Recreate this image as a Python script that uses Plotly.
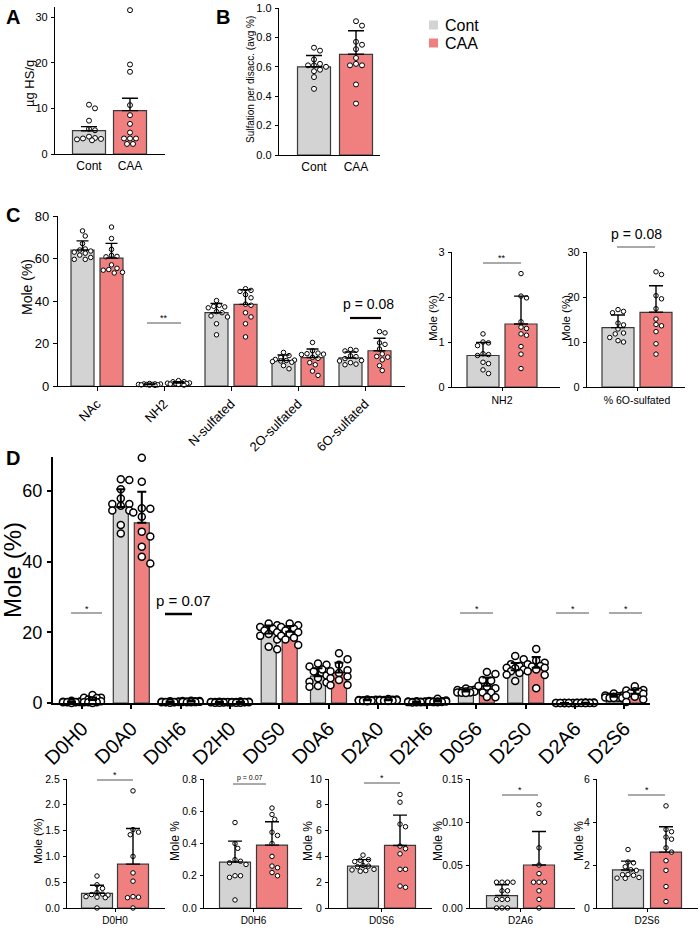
import plotly.graph_objects as go

W, H = 700, 929
FONT = "Liberation Sans, Arial, Helvetica, sans-serif"
GREY, RED, EDGE = "#d3d3d3", "#f08080", "#3a3a3a"

groups = ["Cont", "CAA"]

# ---------------- Panel A : HS content ----------------
a_cont = [10.8, 10.0, 7.3, 5.5, 5.2, 3.8, 3.5, 3.4, 3.3, 3.2, 3.0]
a_caa = [31.5, 19.6, 18.0, 10.7, 8.5, 6.6, 4.7, 3.4, 3.4, 3.4, 2.2, 2.2]
a_mean = [5.1, 9.5]
a_err = [0.9, 2.7]

# ---------------- Panel B : sulfation per disaccharide ----------------
b_cont = [0.73, 0.71, 0.65, 0.62, 0.61, 0.61, 0.60, 0.58, 0.57, 0.53, 0.45]
b_caa = [0.91, 0.88, 0.77, 0.75, 0.72, 0.66, 0.62, 0.61, 0.61, 0.48, 0.35]
b_mean = [0.60, 0.685]
b_err = [0.077, 0.16]

# ---------------- Panel C ----------------
c_cats = ["NAc", "NH2", "N-sulfated", "2O-sulfated", "6O-sulfated"]
c_nac_cont = [73.0, 70.6, 67.0, 64.5, 64.0, 63.5, 63.0, 62.5, 61.6, 60.5, 59.6, 59.6]
c_nac_caa = [74.8, 69.4, 64.3, 61.5, 61.0, 60.8, 57.0, 55.4, 54.5, 53.2, 53.5, 54.8]
c_nh2_cont = [1.18, 1.0, 0.98, 0.92, 0.74, 0.72, 0.70, 0.55, 0.52, 0.38, 0.30]
c_nh2_caa = [2.52, 2.02, 1.98, 1.45, 1.33, 1.30, 1.18, 1.15, 0.90, 0.73, 0.41]
c_ns_cont = [40.2, 38.0, 37.5, 37.2, 36.8, 35.0, 34.5, 33.0, 32.5, 29.3, 24.1]
c_ns_caa = [45.8, 45.0, 44.5, 43.0, 41.5, 38.5, 38.0, 34.5, 32.5, 29.3, 23.1]
c_2o_cont = [15.8, 14.3, 13.5, 12.5, 12.2, 12.0, 11.8, 11.5, 11.2, 9.6, 8.1]
c_2o_caa = [20.5, 16.6, 15.5, 15.2, 15.0, 14.8, 13.5, 13.0, 11.0, 10.0, 7.0, 5.0]
c_6o_cont = [17.2, 16.8, 16.5, 14.2, 13.8, 12.9, 12.0, 11.8, 11.0, 10.3, 10.0]
c_6o_caa = [25.6, 25.0, 20.3, 19.6, 17.4, 15.1, 13.9, 13.6, 12.3, 9.6, 7.3]
c_mean_cont = [64.0, 0.70, 34.5, 12.0, 13.2]
c_mean_caa = [60.2, 1.40, 38.4, 13.4, 16.6]
c_err_cont = [4.3, 0.29, 4.3, 2.6, 2.8]
c_err_caa = [6.9, 0.62, 6.9, 4.0, 5.9]

# ---------------- Panel D ----------------
d_cats = ["D0H0", "D0A0", "D0H6", "D2H0", "D0S0", "D0A6",
          "D2A0", "D2H6", "D0S6", "D2S0", "D2A6", "D2S6"]
d0h0_cont = [0.62, 0.45, 0.38, 0.30, 0.27, 0.26, 0.25, 0.22, 0.21, 0.20, 0.0]
d0h0_caa = [2.27, 1.52, 1.47, 1.42, 1.0, 0.68, 0.52, 0.22, 0.21, 0.20, 0.0]
d0a0_cont = [63.3, 63.1, 60.5, 57.9, 56.3, 56.3, 55.8, 54.5, 54.5, 50.4, 48.0]
d0a0_caa = [69.4, 62.6, 55.1, 55.0, 53.9, 52.7, 48.5, 47.1, 44.2, 41.4, 39.5]
d0h6_cont = [0.53, 0.40, 0.37, 0.30, 0.29, 0.28, 0.27, 0.20, 0.20, 0.19, 0.05]
d0h6_caa = [0.62, 0.58, 0.55, 0.47, 0.45, 0.40, 0.32, 0.26, 0.25, 0.22, 0.20]
d2h0_cont = [0.35, 0.30, 0.30, 0.25, 0.25, 0.20, 0.20, 0.20, 0.15, 0.10, 0.10]
d2h0_caa = [0.40, 0.35, 0.30, 0.30, 0.25, 0.25, 0.20, 0.20, 0.15, 0.10, 0.10]
d0s0_cont = [22.5, 22.0, 21.5, 21.0, 20.5, 20.0, 19.5, 19.0, 18.0, 15.9, 15.2]
d0s0_caa = [22.5, 22.0, 21.5, 21.0, 20.5, 20.0, 19.5, 19.0, 18.5, 18.0, 16.4]
d0a6_cont = [11.2, 10.8, 10.3, 9.5, 8.9, 7.8, 7.0, 6.0, 5.8, 4.8, 4.6]
d0a6_caa = [14.1, 12.4, 10.8, 9.3, 9.0, 8.5, 7.5, 7.0, 6.5, 5.1, 5.0]
d2a0_cont = [1.0, 0.9, 0.85, 0.8, 0.8, 0.75, 0.7, 0.7, 0.65, 0.6, 0.5]
d2a0_caa = [1.1, 1.0, 0.95, 0.9, 0.85, 0.8, 0.75, 0.7, 0.7, 0.65, 0.55]
d2h6_cont = [0.5, 0.45, 0.4, 0.35, 0.3, 0.3, 0.25, 0.25, 0.2, 0.2, 0.15]
d2h6_caa = [1.2, 0.7, 0.6, 0.5, 0.45, 0.4, 0.4, 0.35, 0.3, 0.25, 0.2]
d0s6_cont = [4.1, 3.75, 3.7, 3.6, 3.3, 3.25, 3.2, 3.0, 2.95, 2.9, 2.85]
d0s6_caa = [8.8, 8.2, 6.5, 6.3, 4.8, 4.6, 4.2, 3.0, 3.0, 1.7, 1.6]
d2s0_cont = [13.3, 12.4, 11.0, 10.5, 10.0, 9.8, 9.5, 9.0, 8.5, 8.0, 6.2]
d2s0_caa = [15.3, 12.0, 11.4, 11.0, 10.5, 10.3, 10.0, 9.5, 9.0, 7.9, 4.2]
d2a6_cont = [0.03, 0.03, 0.03, 0.03, 0.02, 0.02, 0.01, 0.01, 0.01, 0.0, 0.0, 0.0]
d2a6_caa = [0.12, 0.11, 0.07, 0.05, 0.04, 0.03, 0.03, 0.03, 0.02, 0.01, 0.0]
d2s6_cont = [2.72, 2.14, 2.1, 1.92, 1.78, 1.75, 1.56, 1.55, 1.52, 1.42, 1.39, 1.38]
d2s6_caa = [4.75, 3.65, 3.55, 3.3, 3.2, 2.8, 2.6, 2.2, 1.75, 1.0, 0.3]
d_mean_cont = [0.285, 55.5, 0.285, 0.25, 19.7, 7.6, 0.75, 0.3, 3.25, 9.3, 0.0145, 1.77]
d_mean_caa = [0.85, 51.0, 0.39, 0.25, 20.2, 8.6, 0.8, 0.45, 4.85, 10.0, 0.05, 2.6]
d_err_cont = [0.155, 5.0, 0.13, 0.08, 2.2, 2.2, 0.15, 0.1, 0.5, 2.0, 0.0125, 0.41]
d_err_caa = [0.69, 8.8, 0.145, 0.1, 1.6, 2.8, 0.17, 0.3, 2.35, 3.0, 0.039, 1.18]
d_inset_names = ["D0H0", "D0H6", "D0S6", "D2A6", "D2S6"]

c_dots_cont = [c_nac_cont, c_nh2_cont, c_ns_cont, c_2o_cont, c_6o_cont]
c_dots_caa = [c_nac_caa, c_nh2_caa, c_ns_caa, c_2o_caa, c_6o_caa]
d_dots_cont = [d0h0_cont, d0a0_cont, d0h6_cont, d2h0_cont, d0s0_cont, d0a6_cont,
               d2a0_cont, d2h6_cont, d0s6_cont, d2s0_cont, d2a6_cont, d2s6_cont]
d_dots_caa = [d0h0_caa, d0a0_caa, d0h6_caa, d2h0_caa, d0s0_caa, d0a6_caa,
              d2a0_caa, d2h6_caa, d0s6_caa, d2s0_caa, d2a6_caa, d2s6_caa]

# ---------------- helpers ----------------
fig = go.Figure()
layout = {}


def fx(px):
    return px / W


def fy(py):
    return 1 - py / H


def swarm(vals, ppu, d, maxw):
    """deterministic beeswarm offsets in px"""
    ys = [v * ppu for v in vals]
    order = sorted(range(len(vals)), key=lambda i: -vals[i])
    step = d * 0.5
    cands = [0.0]
    k = 1
    while k * step <= maxw + 1e-9:
        cands += [k * step, -k * step]
        k += 1
    placed = []
    offs = [0.0] * len(vals)
    for i in order:
        best, bestd = 0.0, -1
        for c in cands:
            md = min([((c - px) ** 2 + (ys[i] - py) ** 2) ** 0.5 for px, py in placed] or [1e9])
            if md >= 0.97 * d:
                best = c
                bestd = 1e9
                break
            if md > bestd:
                best, bestd = c, md
        offs[i] = best
        placed.append((best, ys[i]))
    return offs


def axes(n, ax0, ax1, xr, ybot, ytop, yr, yticks, ytext, xtv, xtt, xticks, fy_size, fx_size,
         xangle=0, lw=1.3, ticklen=4, ystand=1, xstand=None):
    xs = "" if n == 1 else str(n)
    xa = dict(
        domain=[fx(ax0), fx(ax1)], range=xr, anchor="y" + xs, showline=True,
        linecolor="black", linewidth=lw, showgrid=False, zeroline=False, automargin=False,
        ticks="outside" if xticks else "", ticklen=ticklen, tickwidth=lw, tickcolor="black",
        tickmode="array", tickvals=xtv, ticktext=xtt, tickangle=xangle,
        tickfont=dict(family=FONT, size=fx_size, color="black"), fixedrange=True)
    if xstand is not None:
        xa["ticklabelstandoff"] = xstand
    layout["xaxis" + xs] = xa
    layout["yaxis" + xs] = dict(
        domain=[fy(ybot), fy(ytop)], range=yr, anchor="x" + xs, showline=True,
        linecolor="black", linewidth=lw, showgrid=False, zeroline=False, automargin=False,
        ticks="outside", ticklen=ticklen, tickwidth=lw, tickcolor="black",
        tickmode="array", tickvals=yticks, ticktext=ytext, ticklabelstandoff=ystand,
        tickfont=dict(family=FONT, size=fy_size, color="black"), fixedrange=True)
    return "x" + xs, "y" + xs


def draw_group(xr_, yr_, centers, means, errs, dots, colors, bw, sp, ppu, dsize, dlw, cap,
               ethick=1.4, maxw=None):
    fig.add_trace(go.Bar(x=centers, y=means, width=bw, xaxis=xr_, yaxis=yr_,
                         marker=dict(color=colors, line=dict(color=EDGE, width=1.2)),
                         showlegend=False, hoverinfo="skip"))
    for c, vals in zip(centers, dots):
        mw = maxw if maxw is not None else bw * sp * 0.5
        offs = swarm(vals, ppu, dsize + dlw, mw)
        fig.add_trace(go.Scatter(x=[c + o / sp for o in offs], y=vals, mode="markers",
                                 xaxis=xr_, yaxis=yr_, cliponaxis=False,
                                 marker=dict(size=dsize, color="white",
                                             line=dict(color="black", width=dlw)),
                                 showlegend=False, hoverinfo="skip"))
    fig.add_trace(go.Scatter(x=centers, y=means, mode="markers", xaxis=xr_, yaxis=yr_,
                             marker=dict(size=1, color="rgba(0,0,0,0)"),
                             error_y=dict(type="data", symmetric=False, array=errs,
                                          arrayminus=[0] * len(errs), color="black",
                                          thickness=ethick, width=cap),
                             showlegend=False, hoverinfo="skip"))


def simple_panel(n, ax0, ax1, bar0, sp, bw_px, ybot, ytop, ppu, yticks, yfmt,
                 means, errs, dots, xtv, xtt, xticks, fy_size, fx_size, dsize, cap,
                 ticklen=3, xstand=None):
    xr = [(ax0 - bar0) / sp, (ax1 - bar0) / sp]
    yr = [0, (ybot - ytop) / ppu]
    xa, ya = axes(n, ax0, ax1, xr, ybot, ytop, yr, yticks, [yfmt.format(t) for t in yticks],
                  xtv, xtt, xticks, fy_size, fx_size, ticklen=ticklen, xstand=xstand)
    draw_group(xa, ya, [0, 1], means, errs, dots, [GREY, RED], bw_px / sp, sp, ppu,
               dsize, 1.0, cap)


# ---------------- Panel A ----------------
simple_panel(1, 55, 165, 89, 41, 33, 154, 7, (154 - 17) / 30, [0, 10, 20, 30], "{:d}",
             a_mean, a_err, [a_cont, a_caa], [0, 1], groups, False, 11, 12, 5, 8)
# ---------------- Panel B ----------------
simple_panel(2, 279, 380, 314, 42, 33, 155, 8, 147, [0, 0.2, 0.4, 0.6, 0.8, 1.0], "{:.1f}",
             b_mean, b_err, [b_cont, b_caa], [0, 1], groups, False, 11, 12, 5, 8)

# ---------------- Panel C main ----------------
c_sp, c_ppu, c_off = 67, (386 - 216) / 80, 14.5
xa, ya = axes(3, 58, 405, [(58 - 97) / c_sp, (405 - 97) / c_sp], 386, 216, [0, 80],
              [0, 20, 40, 60, 80], ["0", "20", "40", "60", "80"],
              list(range(len(c_cats))), c_cats, True, 13, 13, xangle=-45)
ci = list(range(len(c_cats)))
draw_group(xa, ya, [i - c_off / c_sp for i in ci], c_mean_cont, c_err_cont, c_dots_cont,
           GREY, 23 / c_sp, c_sp, c_ppu, 4.5, 1.0, 6)
draw_group(xa, ya, [i + c_off / c_sp for i in ci], c_mean_caa, c_err_caa, c_dots_caa,
           RED, 23 / c_sp, c_sp, c_ppu, 4.5, 1.0, 6)

# ---------------- Panel C insets ----------------
simple_panel(4, 452, 560, 483, 38, 32, 387, 252, 45, [0, 1, 2, 3], "{:d}",
             [c_mean_cont[1], c_mean_caa[1]], [c_err_cont[1], c_err_caa[1]],
             [c_nh2_cont, c_nh2_caa], [0.5], ["NH2"], True, 11, 10.5, 4.5, 7)
simple_panel(5, 587, 685, 618, 38, 32, 387, 252, 4.5, [0, 10, 20, 30], "{:d}",
             [c_mean_cont[4], c_mean_caa[4]], [c_err_cont[4], c_err_caa[4]],
             [c_6o_cont, c_6o_caa], [0.5], ["% 6O-sulfated"], True, 11, 10.5, 4.5, 7)

# ---------------- Panel D main ----------------
d_sp, d_ppu, d_off = 49.3, (703 - 491) / 60, 10.5
xa, ya = axes(6, 53, 650, [(53 - 82) / d_sp, (650 - 82) / d_sp], 703, 457,
              [0, (703 - 457) / d_ppu], [0, 20, 40, 60], ["0", "20", "40", "60"],
              list(range(len(d_cats))), d_cats, True, 18, 20, xangle=-45, lw=2, ticklen=4)
di = list(range(len(d_cats)))
draw_group(xa, ya, [i - d_off / d_sp for i in di], d_mean_cont, d_err_cont, d_dots_cont,
           GREY, 15 / d_sp, d_sp, d_ppu, 7, 1.5, 4.5, ethick=2, maxw=9)
draw_group(xa, ya, [i + d_off / d_sp for i in di], d_mean_caa, d_err_caa, d_dots_caa,
           RED, 15 / d_sp, d_sp, d_ppu, 7, 1.5, 4.5, ethick=2, maxw=9)

# ---------------- Panel D insets ----------------
IB, IT = 908, 779   # inset axis bottom / top (px)
inset_pos = [(67, 165, 97, 36), (204, 302, 235, 37), (329, 432, 363, 37),
             (470, 575, 502, 37), (597, 698, 628, 38)]
inset_idx = [0, 2, 8, 10, 11]
inset_ticks = [([0, 0.5, 1.0, 1.5, 2.0, 2.5], "{:.1f}"), ([0, 0.2, 0.4, 0.6, 0.8], "{:.1f}"),
               ([0, 2, 4, 6, 8, 10], "{:d}"), ([0, 0.05, 0.10, 0.15], "{:.2f}"),
               ([0, 2, 4, 6], "{:d}")]
for k, ((a0, a1, b0, sp), idx, (tv, fmt)) in enumerate(zip(inset_pos, inset_idx, inset_ticks)):
    ppu = (IB - IT) / tv[-1]
    simple_panel(7 + k, a0, a1, b0, sp, 31, IB, IT, ppu, tv, fmt,
                 [d_mean_cont[idx], d_mean_caa[idx]], [d_err_cont[idx], d_err_caa[idx]],
                 [d_dots_cont[idx], d_dots_caa[idx]], [0.5], [d_inset_names[k]], True,
                 10.5, 10, 4.5, 7, ticklen=3, xstand=0)

# ---------------- annotations & shapes ----------------
ann = []
shapes = []


def text(px, py, s, size, bold=False, angle=0, xanchor="center"):
    ann.append(dict(x=fx(px), y=fy(py), xref="paper", yref="paper", text=s, showarrow=False,
                    textangle=angle, xanchor=xanchor, yanchor="middle",
                    font=dict(family=FONT, size=size, color="black",
                              weight="bold" if bold else "normal")))


def hline(x0, x1, py, w=1.0, color="#555555"):
    shapes.append(dict(type="line", xref="paper", yref="paper", x0=fx(x0), x1=fx(x1),
                       y0=fy(py), y1=fy(py), line=dict(color=color, width=w)))


# panel letters
for s, px, py in [("A", 13, 17), ("B", 223, 17), ("C", 13, 215), ("D", 13, 458)]:
    text(px, py, s, 20, bold=True)

# axis titles
text(29, 83, "µg HS/g", 13, angle=-90)
text(250, 80, "Sulfation per disacc. (avg %)", 10, angle=-90)
text(27, 287, "Mole (%)", 14, angle=-90)
text(433, 318, "Mole (%)", 11.5, angle=-90)
text(566, 318, "Mole (%)", 11.5, angle=-90)
text(12, 570, "Mole (%)", 24, angle=-90)
text(38, 841, "Mole (%)", 11.5, angle=-90)
for px in [175, 308, 438, 579]:
    text(px, 841, "Mole %", 12, angle=-90)

# legend
for (py, col, lab) in [(25, GREY, "Cont"), (43, RED, "CAA")]:
    shapes.append(dict(type="rect", xref="paper", yref="paper", x0=fx(429), x1=fx(438),
                       y0=fy(py + 4.5), y1=fy(py - 4.5), fillcolor=col, line=dict(width=0)))
    text(443, py, lab, 16, xanchor="left")

# significance marks
hline(147, 181, 323)
text(164, 318, "**", 9)
hline(350, 381, 318, 2.2, "black")
text(368, 304, "p = 0.08", 14)
hline(483, 521, 263)
text(502, 258, "**", 9)
hline(617, 655, 247)
text(636, 234, "p = 0.08", 14)
for (x0, x1) in [(71, 102), (460, 493), (556, 589), (609, 642)]:
    hline(x0, x1, 613)
    text((x0 + x1) / 2, 609, "*", 9)
hline(165, 192, 614, 2.5, "black")
text(183, 600, "p = 0.07", 15)
for (x0, x1, py) in [(97, 133, 780), (364, 400, 783), (502, 538, 795), (628, 665, 795)]:
    hline(x0, x1, py)
    text((x0 + x1) / 2, py - 5, "*", 9)
hline(233, 266, 784)
text(250, 778, "p = 0.07", 7)

fig.update_layout(width=W, height=H, margin=dict(l=0, r=0, t=0, b=0, autoexpand=False),
                  paper_bgcolor="white", plot_bgcolor="white", barmode="overlay",
                  showlegend=False, annotations=ann, shapes=shapes,
                  font=dict(family=FONT, color="black"), **layout)
fig.write_html("out.html")
